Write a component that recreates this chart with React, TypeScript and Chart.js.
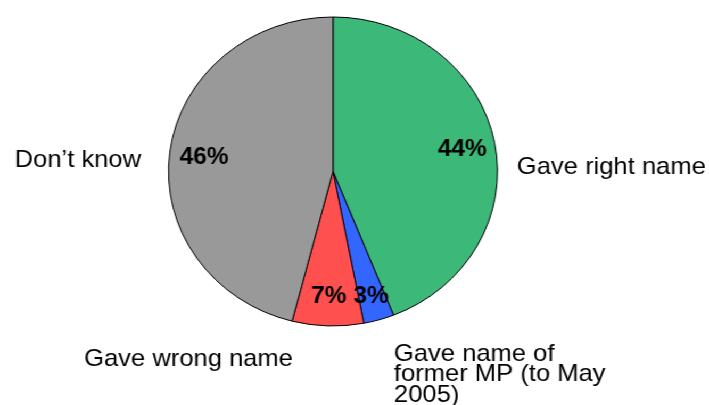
import React, { useEffect, useRef } from "react";
import { Chart, registerables } from "chart.js";

Chart.register(...registerables);

const categories = ["Gave right name", "Gave name of former MP (to May 2005)", "Gave wrong name", "Don’t know"];
const values = [44, 3, 7, 46];
const percentLabels = ["44%", "3%", "7%", "46%"];
const labelLines = [["Gave right name"], ["Gave name of", "former MP (to May", "2005)"], ["Gave wrong name"], ["Don’t know"]];
const colors = ["#3cb878", "#3366ff", "#ff5050", "#999999"];

// layout (unstretched canvas px, relative to pie centre)
const STRETCH = 709 / 666;
const CW = 666;
const CH = 405;
const labelLayout = [
  { dx: 172.8, dy: 2, align: "left" as CanvasTextAlign, lh: 0 },
  { dx: 57.3, dy: 189, align: "left" as CanvasTextAlign, lh: 20.5 },
  { dx: -37.6, dy: 194, align: "right" as CanvasTextAlign, lh: 0 },
  { dx: -180.3, dy: -5, align: "right" as CanvasTextAlign, lh: 0 },
];
const pctRadius = [0.8, 0.83, 0.8, 0.79];

const labelPlugin = {
  id: "labels",
  afterDatasetsDraw(chart: any) {
    const ctx = chart.ctx as CanvasRenderingContext2D;
    const meta = chart.getDatasetMeta(0);
    ctx.save();
    ctx.fillStyle = "#000";
    meta.data.forEach((arc: any, i: number) => {
      const p = arc.getProps(["x", "y", "startAngle", "endAngle", "outerRadius"], true);
      const mid = (p.startAngle + p.endAngle) / 2;
      const r = p.outerRadius * pctRadius[i];
      ctx.font = "bold 23px 'Liberation Sans', Arial, sans-serif";
      ctx.textAlign = "center";
      ctx.textBaseline = "alphabetic";
      ctx.fillText(percentLabels[i], p.x + Math.cos(mid) * r, p.y + Math.sin(mid) * r + 8);
      const L = labelLayout[i];
      ctx.font = "24px 'Liberation Sans', Arial, sans-serif";
      ctx.textAlign = L.align;
      ctx.textBaseline = "alphabetic";
      labelLines[i].forEach((line, j) => {
        ctx.fillText(line, p.x + L.dx, p.y + L.dy + j * L.lh);
      });
    });
    ctx.restore();
  },
};

export default function App() {
  const ref = useRef<HTMLCanvasElement>(null);
  useEffect(() => {
    if (!ref.current) return;
    const chart = new Chart(ref.current, {
      type: "pie",
      data: {
        labels: categories,
        datasets: [
          {
            data: values,
            backgroundColor: colors,
            borderColor: "#000",
            borderWidth: 1,
          },
        ],
      },
      options: {
        responsive: false,
        animation: false,
        devicePixelRatio: 1,
        layout: { padding: { left: 157.8, top: 16.5, right: 198.2, bottom: 78.5 } },
        plugins: { legend: { display: false }, tooltip: { enabled: false } },
      },
      plugins: [labelPlugin],
    });
    return () => chart.destroy();
  }, []);
  return (
    <div
      style={{
        position: "absolute",
        left: 0,
        top: 0,
        width: CW,
        height: CH,
        transform: `scaleX(${STRETCH})`,
        transformOrigin: "0 0",
        background: "#fff",
      }}
    >
      <canvas ref={ref} width={CW} height={CH} style={{ width: CW, height: CH, display: "block" }} />
    </div>
  );
}
